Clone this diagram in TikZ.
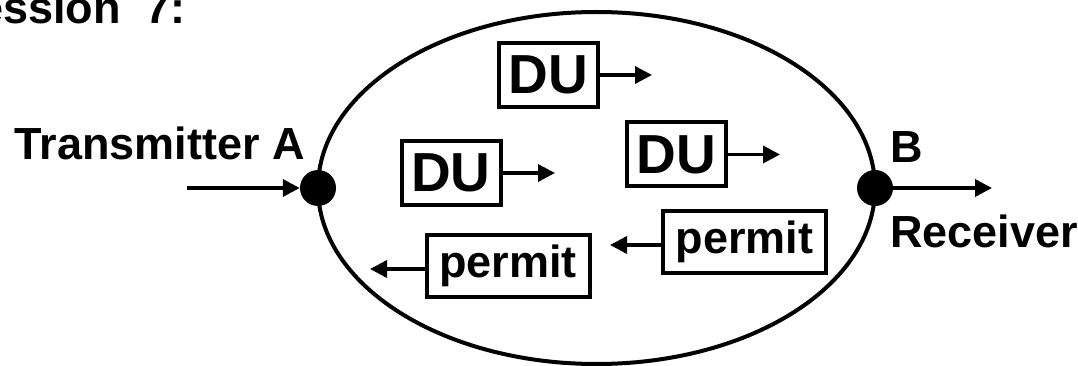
\documentclass[tikz,border=0pt]{standalone}
\usepackage{fontspec}
\setmainfont{Liberation Sans}
\usetikzlibrary{arrows.meta}
\begin{document}
\begin{tikzpicture}[x=1pt,y=-1pt,
  lbl/.style={font=\fontsize{45}{54}\selectfont\bfseries, inner sep=0pt},
  dubox/.style={draw, line width=4pt, minimum width=99pt, minimum height=64pt,
    inner sep=0pt, font=\fontsize{55}{66}\selectfont\bfseries},
  permitbox/.style={draw, line width=4pt, minimum width=163pt, minimum height=62pt,
    inner sep=0pt, font=\fontsize{45}{54}\selectfont\bfseries},
  flow/.style={line width=3.5pt, -{Triangle[length=17pt,width=17pt]}},
  port/.style={circle, fill=black, minimum size=36pt, inner sep=0pt}]
  \useasboundingbox (0,0) rectangle (1078,366);

  % title line, running off the top-left corner
  \node[lbl, anchor=base west] (title) at (-52,24) {Session\hspace{25pt}7:};

  % the channel
  \draw[line width=4pt] (596.5,188) ellipse [x radius=278.5, y radius=176];

  % end points
  \node[port] (A) at (318,188) {};
  \node[port] (B) at (875,188) {};
  \node[lbl, anchor=base east] (tA) at (305,160) {Transmitter A};
  \node[lbl, anchor=base west] (tB) at (890,163) {B};
  \node[lbl, anchor=base west] (rx) at (890,247) {Receiver};

  \coordinate (in) at (187,188);
  \coordinate (out) at (992,188);
  \draw[flow] (in) -- (A);
  \draw[flow] (B) -- (out);

  % data units moving towards B
  \node[dubox] (du1) at (548.5,75) {DU};
  \node[dubox] (du2) at (451,173) {DU};
  \node[dubox] (du3) at (676,154.5) {DU};
  \coordinate (e1) at (652,75);
  \coordinate (e2) at (555,173);
  \coordinate (e3) at (780,154.5);
  \draw[flow] (du1.east) -- (e1);
  \draw[flow] (du2.east) -- (e2);
  \draw[flow] (du3.east) -- (e3);

  % permits travelling back to A
  \node[permitbox] (p1) at (744.5,242) {permit};
  \node[permitbox] (p2) at (508,266) {permit};
  \coordinate (f1) at (610,245);
  \coordinate (f2) at (370,269);
  \draw[flow] (p1.west |- f1) -- (f1);
  \draw[flow] (p2.west |- f2) -- (f2);
\end{tikzpicture}
\end{document}
